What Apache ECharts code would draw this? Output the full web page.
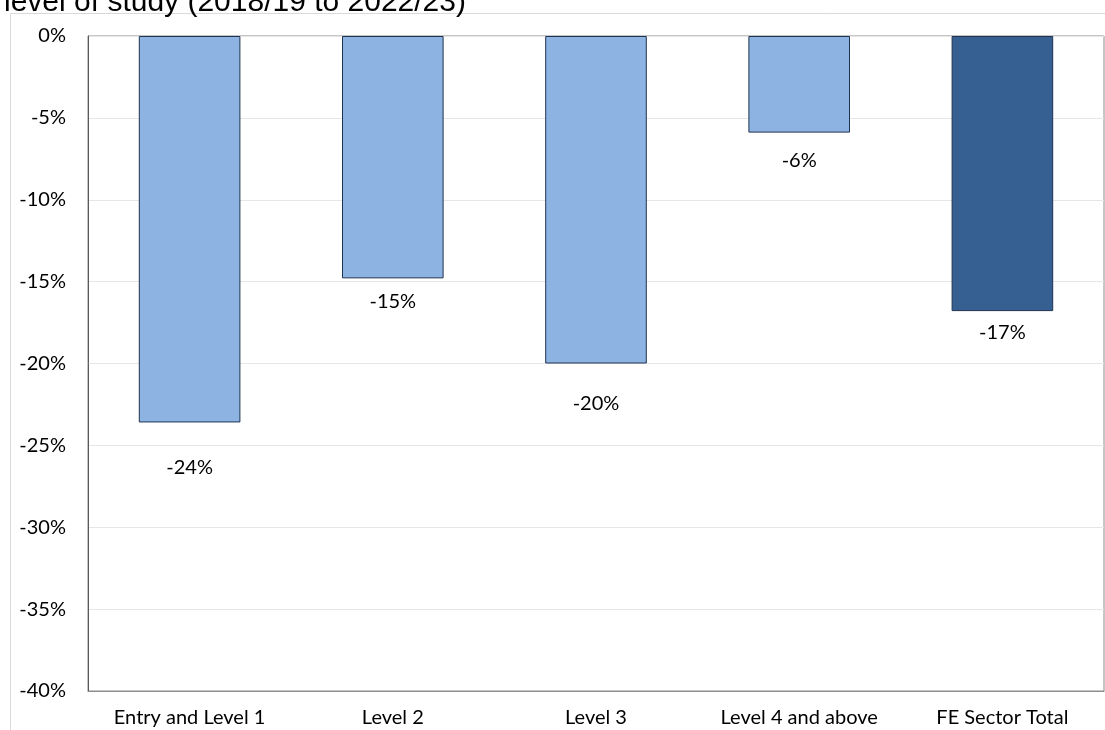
<!DOCTYPE html>
<html>
<head>
    <meta charset="utf-8">
    <title>Change by level of study</title>
    <script src="https://cdn.jsdelivr.net/npm/echarts@6/dist/echarts.min.js"></script>
    <style>
        html, body { margin: 0; padding: 0; background: #fff; }
        #main { width: 1105px; height: 730px; }
    </style>
</head>
<body>
    <div id="main"></div>
    <script type="text/javascript">
        // data
        var levels = ['Entry and Level 1', 'Level 2', 'Level 3', 'Level 4 and above', 'FE Sector Total'];
        var change = [-23.6, -14.8, -20.0, -5.9, -16.8];
        var shownLabels = ['-24%', '-15%', '-20%', '-6%', '-17%'];
        var yTicks = [0, -5, -10, -15, -20, -25, -30, -35, -40];

        // label drop below each bar (px), as placed in the original
        var labelDrop = [35, 13, 30, 18, 11];
        var lightBlue = '#8db3e2';
        var darkBlue = '#376092';

        var barData = change.map(function (v, i) {
            return {
                value: v,
                itemStyle: { color: i === change.length - 1 ? darkBlue : lightBlue },
                label: { distance: labelDrop[i], formatter: shownLabels[i] }
            };
        });

        var myChart = echarts.init(document.getElementById('main'));
        var option = {
            backgroundColor: '#fff',
            animation: false,
            title: {
                text: 'level of study (2018/19 to 2022/23)',
                left: -1,
                top: -17,
                textStyle: { fontFamily: 'Liberation Sans', fontSize: 30, fontWeight: 'normal', color: '#000' }
            },
            graphic: [
                { type: 'line', shape: { x1: 10.5, y1: 13.5, x2: 1105, y2: 13.5 }, style: { stroke: '#d9d9d9', lineWidth: 1 } },
                { type: 'line', shape: { x1: 10.5, y1: 13.5, x2: 10.5, y2: 730 }, style: { stroke: '#d9d9d9', lineWidth: 1 } }
            ],
            grid: {
                left: 88,
                right: 1,
                top: 36,
                bottom: 39,
                show: true,
                borderColor: '#8c8c8c',
                borderWidth: 1
            },
            xAxis: {
                type: 'category',
                data: levels,
                position: 'bottom',
                axisLine: { onZero: false, lineStyle: { color: '#8c8c8c' } },
                axisTick: { show: false },
                axisLabel: { margin: 17, fontFamily: 'Lato', fontSize: 20, color: '#000', interval: 0 }
            },
            yAxis: {
                type: 'value',
                min: yTicks[yTicks.length - 1],
                max: yTicks[0],
                interval: 5,
                axisLine: { show: true, lineStyle: { color: '#595959' } },
                axisTick: { show: false },
                splitLine: { lineStyle: { color: '#e6e6e6' } },
                axisLabel: {
                    margin: 22,
                    fontFamily: 'Lato',
                    fontSize: 20,
                    color: '#000',
                    formatter: function (v) { return v + '%'; }
                }
            },
            series: [{
                type: 'bar',
                data: barData,
                barWidth: '50%',
                itemStyle: { borderColor: '#1f3350', borderWidth: 1 },
                label: {
                    show: true,
                    position: 'bottom',
                    fontFamily: 'Lato',
                    fontSize: 20,
                    color: '#000'
                }
            }]
        };
        myChart.setOption(option);
    </script>
</body>
</html>
